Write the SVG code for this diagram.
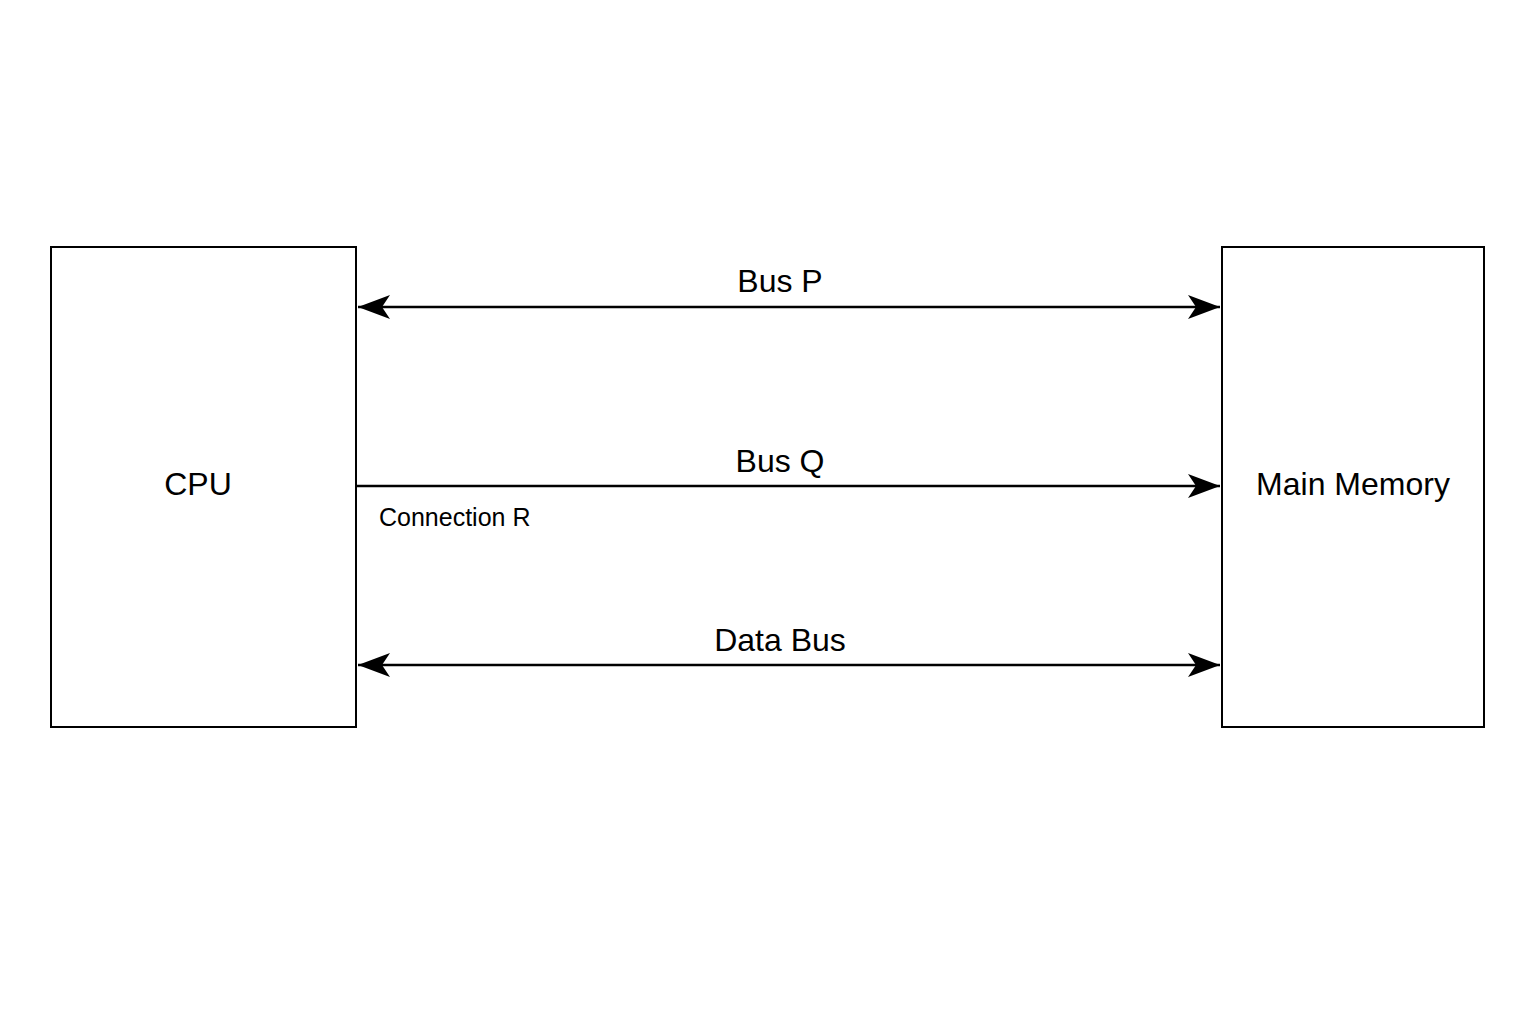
<svg xmlns="http://www.w3.org/2000/svg" width="1536" height="1024" viewBox="0 0 1536 1024">
<style>
.box{fill:#fff;stroke:#000;stroke-width:2}
.ln{stroke:#000;stroke-width:2.5;fill:none}
text{font-family:"Liberation Sans",Arial,sans-serif;fill:#000}
.lb{font-size:32px;text-anchor:middle}
.sm{font-size:25px}
</style>
<defs>
<marker id="ah" viewBox="0 0 32 24" refX="32" refY="12" markerWidth="32" markerHeight="24" markerUnits="userSpaceOnUse" orient="auto-start-reverse">
<path d="M0,0 L32,12 L0,24 L8,12 Z" fill="#000"/>
</marker>
</defs>
<rect width="1536" height="1024" fill="#fff"/>
<g id="cpu"><rect class="box" x="51" y="247" width="305" height="480"/><text class="lb" x="198" y="495">CPU</text></g>
<g id="mem"><rect class="box" x="1222" y="247" width="262" height="480"/><text class="lb" x="1353" y="495">Main Memory</text></g>
<g id="connectors">
<line class="ln" x1="358" y1="307" x2="1220" y2="307" marker-start="url(#ah)" marker-end="url(#ah)"/>
<line class="ln" x1="356" y1="486" x2="1220" y2="486" marker-end="url(#ah)"/>
<line class="ln" x1="358" y1="665" x2="1220" y2="665" marker-start="url(#ah)" marker-end="url(#ah)"/>
<text class="lb" x="780" y="292">Bus P</text>
<text class="lb" x="780" y="472">Bus Q</text>
<text class="sm" x="379" y="526">Connection R</text>
<text class="lb" x="780" y="651">Data Bus</text>
</g>
</svg>
